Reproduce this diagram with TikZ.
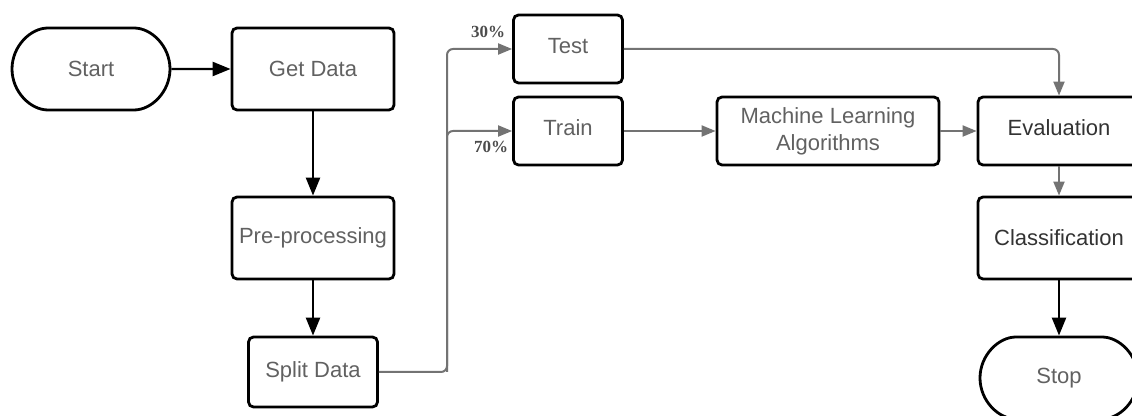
\documentclass[tikz,border=0pt]{standalone}
\usepackage{fontspec}
\setmainfont{Liberation Sans}
\newfontfamily\labelfont{Liberation Serif}
\usetikzlibrary{shapes.misc,arrows.meta,positioning}

\begin{document}
\begin{tikzpicture}[
    x=0.5pt, y=-0.5pt,
    >=Triangle,
    block/.style={
        rectangle, draw, line width=1.4pt, rounded corners=2.5pt,
        minimum width=81pt, minimum height=41pt, inner sep=1pt,
        text centered, align=center, text=black!62,
        font=\fontsize{11}{13.5}\selectfont
    },
    term/.style={block, rounded rectangle},
    dark/.style={text=black!80},
    arr/.style={->, line width=1.2pt, >={Triangle[length=9pt,width=7pt]}},
    garr/.style={->, line width=1pt, color=black!55, rounded corners=3pt,
        >={Triangle[length=7pt,width=5.5pt]}},
    pct/.style={font=\labelfont\bfseries\fontsize{8.5}{10}\selectfont, text=black!70}
]
    \clip (0,0) rectangle (1132,416);

    % Left column
    \node[term] (start) at (91,69) {Start};
    \node[block] (getdata) at (313,69) {Get Data};
    \node[block] (prep) at (313,238) {Pre-processing};
    \node[block, minimum width=64.5pt, minimum height=35pt] (split) at (313,372) {Split Data};

    % Split branches
    \node[block, minimum width=54.5pt, minimum height=34pt, text depth=3pt] (test) at (568,49) {Test};
    \node[block, minimum width=54.5pt, minimum height=34pt, text depth=3pt] (train) at (568,131) {Train};
    \node[block, minimum width=111pt, minimum height=34pt] (mla) at (828,131) {Machine Learning\\Algorithms};

    % Right column
    \node[block, dark, minimum height=34pt, text depth=3pt] (eval) at (1059,131) {Evaluation};
    \node[block, dark] (classif) at (1059,238) {Classification};
    \node[term] (stop) at (1059,378) {Stop};

    \coordinate (fork) at (447,372);

    % Main arrows
    \draw[arr] (start) -- (getdata);
    \draw[arr] (getdata) -- (prep);
    \draw[arr] (prep) -- (split);
    \draw[arr] (classif) -- (stop);

    % Data split
    \draw[garr] (split) -- (fork) |- (test);
    \draw[garr] (fork) |- (train);
    \node[pct] (p30) at (488,32) {30\%};
    \node[pct] (p70) at (491,147) {70\%};

    % Model flow
    \draw[garr] (train) -- (mla);
    \draw[garr] (mla) -- (eval);
    \draw[garr] (test) -| (eval);
    \draw[garr] (eval) -- (classif);

\end{tikzpicture}
\end{document}
